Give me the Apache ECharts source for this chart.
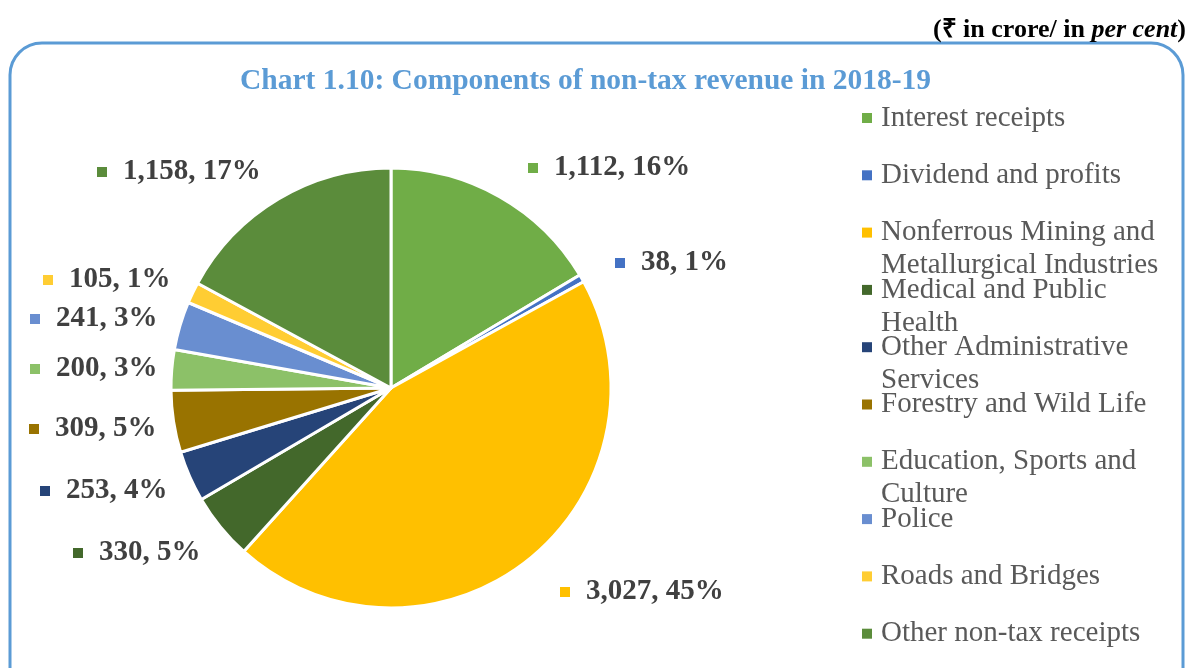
<!DOCTYPE html>
<html>
<head>
<meta charset="utf-8">
<script src="https://cdn.jsdelivr.net/npm/echarts@6/dist/echarts.min.js"></script>
<style>
  html, body { margin: 0; padding: 0; background: #fff; }
  #chart { width: 1188px; height: 668px; }
</style>
</head>
<body>
<div id="chart"></div>
<script>
// chart data
const categories = [
  'Interest receipts',
  'Dividend and profits',
  'Nonferrous Mining and Metallurgical Industries',
  'Medical and Public Health',
  'Other Administrative Services',
  'Forestry and Wild Life',
  'Education, Sports and Culture',
  'Police',
  'Roads and Bridges',
  'Other non-tax receipts'
]
const values = [1112, 38, 3027, 330, 253, 309, 200, 241, 105, 1158]
const percentLabels = ['16%', '1%', '45%', '5%', '4%', '5%', '3%', '3%', '1%', '17%']
// how the legend text wraps in the original
const legendLines = [
  ['Interest receipts'],
  ['Dividend and profits'],
  ['Nonferrous Mining and', 'Metallurgical Industries'],
  ['Medical and Public', 'Health'],
  ['Other Administrative', 'Services'],
  ['Forestry and Wild Life'],
  ['Education, Sports and', 'Culture'],
  ['Police'],
  ['Roads and Bridges'],
  ['Other non-tax receipts']
]

const colors = ['#70AD47', '#4472C4', '#FFC000', '#43682B', '#264478',
  '#997300', '#8CC168', '#698ED0', '#FFCD33', '#5B8C3B']
// label anchors (left edge of the square, vertical middle)
const labelPos = [[528, 168], [615, 263], [560, 592], [73, 553], [40, 491],
  [29, 429], [30, 369], [30, 319], [43, 280], [97, 172]]

const serif = '"Liberation Serif", "Times New Roman", serif'
const legendTop = 116
const legendStep = 57.3

const rich = {
  t: {
    fontFamily: serif,
    fontSize: 29,
    fontWeight: 'bold',
    color: '#404040',
    padding: [0, 0, 0, 16]
  }
}
colors.forEach((c, i) => {
  rich['sq' + i] = { width: 10, height: 10, backgroundColor: c }
})

const graphics = [
  {
    type: 'rect',
    z: -1,
    shape: { x: 10, y: 43, width: 1173, height: 660, r: 32 },
    style: { fill: 'none', stroke: '#5B9BD5', lineWidth: 3 }
  },
  {
    type: 'text',
    style: {
      x: 1186,
      y: 30,
      align: 'right',
      verticalAlign: 'middle',
      text: '{b|(₹ in crore/ in }{i|per cent}{b|)}',
      rich: {
        b: { fontFamily: serif, fontSize: 26, fontWeight: 'bold', fill: '#000' },
        i: { fontFamily: serif, fontSize: 26, fontWeight: 'bold', fontStyle: 'italic', fill: '#000' }
      }
    }
  }
]
legendLines.forEach((lines, i) => {
  if (lines.length > 1) {
    graphics.push({
      type: 'text',
      style: {
        x: 881,
        y: legendTop + i * legendStep + 35,
        verticalAlign: 'middle',
        text: lines[1],
        font: '29px ' + serif,
        fill: '#595959'
      }
    })
  }
})

const chart = echarts.init(document.getElementById('chart'))
chart.setOption({
  animation: false,
  color: colors,
  title: {
    text: 'Chart 1.10: Components of non-tax revenue in 2018-19',
    left: 240,
    top: 66,
    padding: 0,
    textStyle: {
      fontFamily: serif,
      fontSize: 29.5,
      fontWeight: 'bold',
      color: '#5B9BD5'
    }
  },
  legend: {
    orient: 'vertical',
    left: 862,
    top: legendTop - 13,
    padding: 0,
    itemGap: legendStep - 30,
    itemWidth: 10,
    itemHeight: 10,
    icon: 'rect',
    selectedMode: false,
    itemStyle: { borderWidth: 0 },
    data: categories,
    formatter: name => legendLines[categories.indexOf(name)][0],
    textStyle: {
      fontFamily: serif,
      fontSize: 29,
      lineHeight: 30,
      color: '#595959',
      padding: [0, 0, 0, 4]
    }
  },
  graphic: graphics,
  series: [
    {
      type: 'pie',
      center: [391, 388],
      radius: 220,
      startAngle: 90,
      clockwise: true,
      avoidLabelOverlap: false,
      itemStyle: { borderColor: '#fff', borderWidth: 3 },
      label: {
        show: true,
        position: 'outside',
        formatter: p => '{sq' + p.dataIndex + '|}{t|' + p.value.toLocaleString('en-US') + ', ' + percentLabels[p.dataIndex] + '}',
        rich: rich
      },
      labelLine: { show: false },
      labelLayout: p => ({
        x: labelPos[p.dataIndex][0],
        y: labelPos[p.dataIndex][1],
        align: 'left',
        verticalAlign: 'middle'
      }),
      data: categories.map((name, i) => ({ name: name, value: values[i] }))
    }
  ]
})
</script>
</body>
</html>
